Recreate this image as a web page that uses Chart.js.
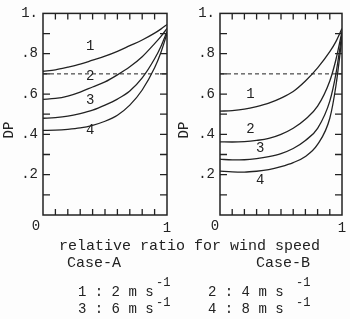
<!DOCTYPE html>
<html>
<head>
<meta charset="utf-8">
<script src="https://cdn.jsdelivr.net/npm/chart.js@4/dist/chart.umd.min.js"></script>
<style>
  body { margin: 0; background: #fdfdfd; width: 350px; height: 319px; position: relative; overflow: hidden;
         font-family: "Liberation Mono", monospace; color: #222; }
  .panel { position: absolute; top: 0; width: 175px; height: 240px; }
  .txt { position: absolute; white-space: pre; line-height: 1; }
  .big { font-size: 15px; }
  .leg { font-size: 14px; }
  .sup { font-size: 12px; }
</style>
</head>
<body>
<div class="panel" style="left:0"><canvas id="chart-a"></canvas></div>
<div class="panel" style="left:175px"><canvas id="chart-b"></canvas></div>

<div class="txt big" style="left:59px;top:239px">relative ratio for wind speed</div>
<div class="txt big" style="left:67px;top:256px">Case-A</div>
<div class="txt big" style="left:256px;top:256px">Case-B</div>
<div class="txt leg" style="left:78px;top:285px">1 : 2 m s</div>
<div class="txt sup" style="left:156px;top:277px">-1</div>
<div class="txt leg" style="left:78px;top:302px">3 : 6 m s</div>
<div class="txt sup" style="left:156px;top:297px">-1</div>
<div class="txt leg" style="left:208px;top:285px">2 : 4 m s</div>
<div class="txt sup" style="left:296px;top:277px">-1</div>
<div class="txt leg" style="left:208px;top:302px">4 : 8 m s</div>
<div class="txt sup" style="left:296px;top:297px">-1</div>

<script>
// relative ratio for wind speed (x)
const ratio = [0, 0.1, 0.2, 0.3, 0.4, 0.5, 0.6, 0.7, 0.8, 0.9, 0.95, 1.0];

// Case-A, DP for each wind speed
const caseA1 = [0.713, 0.72, 0.733, 0.748, 0.768, 0.788, 0.812, 0.84, 0.868, 0.902, 0.922, 0.945];
const caseA2 = [0.574, 0.578, 0.59, 0.61, 0.635, 0.66, 0.695, 0.735, 0.785, 0.85, 0.885, 0.925];
const caseA3 = [0.48, 0.483, 0.49, 0.503, 0.52, 0.545, 0.575, 0.615, 0.68, 0.775, 0.835, 0.91];
const caseA4 = [0.42, 0.421, 0.425, 0.432, 0.445, 0.465, 0.495, 0.545, 0.62, 0.73, 0.805, 0.90];

// Case-B
const caseB1 = [0.515, 0.518, 0.525, 0.538, 0.555, 0.58, 0.613, 0.665, 0.73, 0.81, 0.86, 0.925];
const caseB2 = [0.363, 0.362, 0.364, 0.37, 0.38, 0.40, 0.43, 0.475, 0.54, 0.665, 0.77, 0.91];
const caseB3 = [0.277, 0.273, 0.274, 0.28, 0.29, 0.305, 0.33, 0.37, 0.43, 0.565, 0.70, 0.90];
const caseB4 = [0.218, 0.214, 0.213, 0.217, 0.225, 0.24, 0.26, 0.29, 0.35, 0.48, 0.64, 0.88];

const refLevel = 0.7;
const curveNames = ["1", "2", "3", "4"];
const xTickLabels = ["0", "1"];

// where the curve numbers sit (data units)
const labelSpotsA = [[0.38, 0.835], [0.38, 0.69], [0.38, 0.57], [0.38, 0.42]];
const labelSpotsB = [[0.25, 0.60], [0.25, 0.425], [0.33, 0.33], [0.33, 0.17]];

const ink = "#222";
const FONT = "Liberation Mono, monospace";

function toPoints(ys) {
  return ys.map((y, i) => ({ x: ratio[i], y: y }));
}

const panelPlugin = {
  id: "panel",
  afterDatasetsDraw(chart, args, opts) {
    const { ctx, chartArea: a, scales } = chart;
    const xs = scales.x, ys = scales.y;
    ctx.save();
    ctx.strokeStyle = ink;
    ctx.lineWidth = 1.5;
    ctx.strokeRect(a.left, a.top, a.right - a.left, a.bottom - a.top);

    // inward ticks every 0.1 on all four sides
    ctx.lineWidth = 1.3;
    ctx.beginPath();
    for (let i = 1; i < 10; i++) {
      const v = i / 10;
      const px = xs.getPixelForValue(v);
      const py = ys.getPixelForValue(v);
      ctx.moveTo(px, a.bottom); ctx.lineTo(px, a.bottom - 6);
      ctx.moveTo(px, a.top); ctx.lineTo(px, a.top + 6);
      ctx.moveTo(a.left, py); ctx.lineTo(a.left + 7, py);
      ctx.moveTo(a.right, py); ctx.lineTo(a.right - 7, py);
    }
    ctx.stroke();

    ctx.fillStyle = ink;
    ctx.font = "14px " + FONT;
    ctx.textAlign = "center";
    ctx.textBaseline = "middle";
    // x tick labels
    ctx.fillText(xTickLabels[0], xs.getPixelForValue(0) + opts.zeroShift, a.bottom + 11);
    ctx.fillText(xTickLabels[1], xs.getPixelForValue(1), a.bottom + 13);

    // curve numbers
    opts.spots.forEach((s, i) => {
      ctx.fillText(curveNames[i], xs.getPixelForValue(s[0]), ys.getPixelForValue(s[1]));
    });

    // DP axis name
    ctx.translate(opts.dpX, 130);
    ctx.rotate(-Math.PI / 2);
    ctx.fillText("DP", 0, 0);
    ctx.restore();
  }
};

function makeChart(id, series, spots, yWidth, rightPad, zeroShift, dpX) {
  const datasets = series.map(ys => ({
    data: toPoints(ys),
    borderColor: ink,
    borderWidth: 1.3,
    pointRadius: 0,
    cubicInterpolationMode: "monotone",
    fill: false
  }));
  datasets.push({
    data: [{ x: 0, y: refLevel }, { x: 1, y: refLevel }],
    borderColor: ink,
    borderWidth: 1,
    borderDash: [4, 3],
    pointRadius: 0,
    fill: false
  });

  return new Chart(document.getElementById(id), {
    type: "line",
    data: { datasets: datasets },
    options: {
      responsive: true,
      maintainAspectRatio: false,
      animation: false,
      events: [],
      layout: { padding: { top: 13, right: rightPad, left: 0, bottom: 0 } },
      plugins: {
        legend: { display: false },
        tooltip: { enabled: false },
        panel: { spots: spots, zeroShift: zeroShift, dpX: dpX }
      },
      scales: {
        x: {
          type: "linear", min: 0, max: 1,
          grid: { display: false },
          border: { display: false },
          ticks: { display: false },
          afterFit: s => { s.height = 25; }
        },
        y: {
          min: 0, max: 1,
          grid: { display: false, drawTicks: false },
          border: { display: false },
          ticks: {
            stepSize: 0.2,
            padding: 5,
            color: ink,
            font: { family: FONT, size: 14 },
            callback: v => {
              if (v === 0) return "";
              if (Math.abs(v - 1) < 1e-9) return "1.";
              return "." + Math.round(v * 10);
            }
          },
          afterFit: s => { s.width = yWidth; }
        }
      }
    },
    plugins: [panelPlugin]
  });
}

makeChart("chart-a", [caseA1, caseA2, caseA3, caseA4], labelSpotsA, 43, 8, -7, 9);
makeChart("chart-b", [caseB1, caseB2, caseB3, caseB4], labelSpotsB, 45, 8, -5, 9);
</script>
</body>
</html>
